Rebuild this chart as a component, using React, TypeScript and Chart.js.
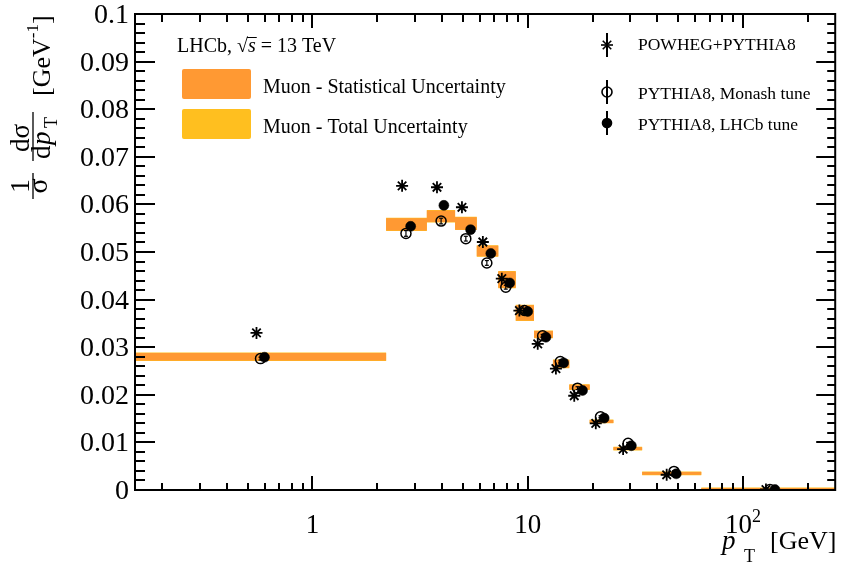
import React, { useEffect, useRef } from "react";
import { Chart, registerables } from "chart.js";
Chart.register(...registerables);

// ---------------- data ----------------
const X_MIN = 0.15;
const X_MAX = 268;
const Y_MIN = 0;
const Y_MAX = 0.1;

// muon measurement (bins in pT [GeV])
const binEdges = [0, 2.2, 3.4, 4.6, 5.8, 7.3, 8.8, 10.7, 13.1, 15.6, 19.4, 25, 34, 64, 300];
const muonValues = [0.0280, 0.0558, 0.0575, 0.0560, 0.0502, 0.0442, 0.0372, 0.0327, 0.0265, 0.0216, 0.0144, 0.0087, 0.0035, 0.0002];
const muonStatErr = [0.0008, 0.0013, 0.0012, 0.0013, 0.0011, 0.0017, 0.0016, 0.0007, 0.0008, 0.0005, 0.0003, 0.0003, 0.0003, 0.0002];
const muonTotErr = [0.0009, 0.0014, 0.0013, 0.0014, 0.0012, 0.0018, 0.0017, 0.0008, 0.0009, 0.0006, 0.0004, 0.0004, 0.0004, 0.0003];

// POWHEG+PYTHIA8
const powhegX = [0.55, 2.61, 3.79, 4.95, 6.19, 7.58, 9.15, 11.13, 13.52, 16.45, 20.71, 27.74, 44.2, 127.8];
const powhegY = [0.0330, 0.0639, 0.0636, 0.0594, 0.0521, 0.0444, 0.0377, 0.0307, 0.0255, 0.0198, 0.0140, 0.0086, 0.0032, 0.0001];

// PYTHIA8, Monash tune
const monashX = [0.574, 2.72, 3.96, 5.16, 6.46, 7.91, 9.65, 11.73, 14.17, 17.04, 21.78, 29.26, 47.8, 133.4];
const monashY = [0.0276, 0.0539, 0.0565, 0.0528, 0.0477, 0.0426, 0.0377, 0.0324, 0.0270, 0.0214, 0.0154, 0.0098, 0.0039, 0.0001];
const monashErr = [0.0003, 0.0006, 0.0006, 0.0005, 0.0005, 0.0004, 0.0004, 0.0003, 0.0003, 0.0003, 0.0002, 0.0002, 0.0001, 0.0000];

// PYTHIA8, LHCb tune
const lhcbX = [0.599, 2.86, 4.08, 5.43, 6.74, 8.25, 10.0, 12.15, 14.68, 17.97, 22.65, 30.30, 48.96, 140.6];
const lhcbY = [0.0279, 0.0554, 0.0598, 0.0547, 0.0497, 0.0435, 0.0375, 0.0321, 0.0267, 0.0209, 0.0151, 0.0093, 0.0034, 0.0001];

// axis ticks
const yTickValues = [0, 0.01, 0.02, 0.03, 0.04, 0.05, 0.06, 0.07, 0.08, 0.09, 0.1];
const yTickLabels = ["0", "0.01", "0.02", "0.03", "0.04", "0.05", "0.06", "0.07", "0.08", "0.09", "0.1"];
const xTickValues = [1, 10, 100];
const xTickLabels = ["1", "10", "10^2"];

// legend texts
const legendModels = ["POWHEG+PYTHIA8", "PYTHIA8, Monash tune", "PYTHIA8, LHCb tune"];
const legendBands = ["Muon - Statistical Uncertainty", "Muon - Total Uncertainty"];

const STAT_COLOR = "#FF9933";
const TOT_COLOR = "#FFBF1F";
const FONT = '"Liberation Serif", "Times New Roman", serif';

function bandPoints(errs: number[], sign: number) {
  const pts: { x: number; y: number }[] = [];
  for (let i = 0; i < muonValues.length; i++) {
    pts.push({ x: Math.max(binEdges[i], X_MIN), y: muonValues[i] + sign * errs[i] });
  }
  const n = muonValues.length - 1;
  pts.push({ x: binEdges[n + 1], y: muonValues[n] + sign * errs[n] });
  return pts;
}

function zip(xs: number[], ys: number[]) {
  return xs.map((x, i) => ({ x, y: ys[i] }));
}

function line(ctx: CanvasRenderingContext2D, x1: number, y1: number, x2: number, y2: number) {
  ctx.beginPath();
  ctx.moveTo(x1, y1);
  ctx.lineTo(x2, y2);
  ctx.stroke();
}

function drawStar(ctx: CanvasRenderingContext2D, x: number, y: number, r: number) {
  for (let k = 0; k < 4; k++) {
    const a = (k * Math.PI) / 4;
    line(ctx, x - r * Math.cos(a), y - r * Math.sin(a), x + r * Math.cos(a), y + r * Math.sin(a));
  }
}

const decoPlugin = {
  id: "deco",
  afterDatasetsDraw(chart: any) {
    const { ctx, scales } = chart;
    const xs = scales.x;
    const ys = scales.y;
    ctx.save();
    ctx.strokeStyle = "#000";
    ctx.lineWidth = 1.2;
    for (let i = 0; i < monashX.length; i++) {
      const e = monashErr[i];
      if (e <= 0) continue;
      const px = xs.getPixelForValue(monashX[i]);
      const p1 = ys.getPixelForValue(monashY[i] - e);
      const p2 = ys.getPixelForValue(monashY[i] + e);
      line(ctx, px, p1, px, p2);
      line(ctx, px - 2, p1, px + 2, p1);
      line(ctx, px - 2, p2, px + 2, p2);
    }
    ctx.restore();
  },
  afterDraw(chart: any) {
    const { ctx, chartArea: a, scales } = chart;
    const xs = scales.x;
    const ys = scales.y;
    ctx.save();
    ctx.strokeStyle = "#000";
    ctx.fillStyle = "#000";
    ctx.lineWidth = 2;
    ctx.lineCap = "butt";
    // frame
    ctx.strokeRect(a.left, a.top, a.right - a.left, a.bottom - a.top);
    // y ticks
    for (let i = 0; i <= 50; i++) {
      const v = i * 0.002;
      const py = Math.round(ys.getPixelForValue(v));
      const major = i % 5 === 0;
      line(ctx, a.left, py, a.left + (major ? 20 : 10), py);
      line(ctx, a.right, py, a.right - (major ? 19 : 8), py);
    }
    // x ticks (log)
    for (let d = 0.1; d <= 1000; d *= 10) {
      for (let m = 1; m <= 9; m++) {
        const v = m * d;
        if (v < X_MIN || v > X_MAX) continue;
        const px = Math.round(xs.getPixelForValue(v));
        const major = m === 1;
        line(ctx, px, a.bottom, px, a.bottom - (major ? 14 : 7));
        line(ctx, px, a.top, px, a.top + (major ? 14 : 8));
      }
    }
    // y tick labels
    ctx.font = `28px ${FONT}`;
    ctx.textAlign = "right";
    ctx.textBaseline = "alphabetic";
    yTickValues.forEach((v, i) => {
      const py = ys.getPixelForValue(v);
      ctx.fillText(yTickLabels[i], 129, py + 9);
    });
    // x tick labels
    xTickValues.forEach((v, i) => {
      const px = xs.getPixelForValue(v);
      const lab = xTickLabels[i];
      if (lab.includes("^")) {
        const [base, exp] = lab.split("^");
        ctx.font = `27px ${FONT}`;
        const wb = ctx.measureText(base).width;
        ctx.font = `18px ${FONT}`;
        const we = ctx.measureText(exp).width;
        const x0 = px - (wb + we) / 2;
        ctx.textAlign = "left";
        ctx.font = `27px ${FONT}`;
        ctx.fillText(base, x0, 533);
        ctx.font = `18px ${FONT}`;
        ctx.fillText(exp, x0 + wb, 522);
      } else {
        ctx.textAlign = "center";
        ctx.font = `27px ${FONT}`;
        ctx.fillText(lab, px, 533);
      }
    });
    // x axis title
    ctx.textAlign = "left";
    ctx.font = `italic 27px ${FONT}`;
    ctx.fillText("p", 722, 549);
    ctx.font = `18px ${FONT}`;
    ctx.fillText("T", 744, 562);
    ctx.font = `26px ${FONT}`;
    ctx.fillText("[GeV]", 770, 549);

    // y axis title (rotated)
    ctx.save();
    ctx.translate(0, 196);
    ctx.rotate(-Math.PI / 2);
    ctx.lineWidth = 1.3;
    ctx.textAlign = "center";
    ctx.font = `28px ${FONT}`;
    ctx.fillText("1", 10, 29);
    ctx.fillText("σ", 10, 47);
    line(ctx, -3, 33, 23, 33);
    ctx.font = `27px ${FONT}`;
    ctx.fillText("dσ", 58, 29);
    line(ctx, 35, 33, 84, 33);
    ctx.textAlign = "left";
    ctx.fillText("d", 37, 50);
    ctx.font = `italic 27px ${FONT}`;
    ctx.fillText("p", 51, 50);
    ctx.font = `18px ${FONT}`;
    ctx.fillText("T", 68, 57);
    ctx.font = `26px ${FONT}`;
    let u = 100;
    ctx.fillText("[GeV", u, 50);
    u += ctx.measureText("[GeV").width;
    ctx.font = `17px ${FONT}`;
    ctx.fillText("-1", u, 38);
    u += ctx.measureText("-1").width;
    ctx.font = `26px ${FONT}`;
    ctx.fillText("]", u, 50);
    ctx.restore();

    // left legend header
    ctx.textAlign = "left";
    ctx.font = `20px ${FONT}`;
    let tx = 177;
    ctx.fillText("LHCb, ", tx, 52);
    tx += ctx.measureText("LHCb, ").width;
    ctx.fillText("√", tx, 52);
    const wr = ctx.measureText("√").width;
    ctx.font = `italic 20px ${FONT}`;
    const ws = ctx.measureText("s").width;
    ctx.fillText("s", tx + wr, 52);
    ctx.lineWidth = 1;
    line(ctx, tx + wr - 1, 37.5, tx + wr + ws + 1, 37.5);
    tx += wr + ws;
    ctx.font = `20px ${FONT}`;
    ctx.fillText(" = 13 TeV", tx, 52);

    // band legend
    const boxes = [
      { y: 69, c: STAT_COLOR },
      { y: 109, c: TOT_COLOR },
    ];
    boxes.forEach((b, i) => {
      ctx.fillStyle = b.c;
      ctx.beginPath();
      (ctx as any).roundRect(182, b.y, 69, 30, 2);
      ctx.fill();
      ctx.fillStyle = "#000";
      ctx.font = `20px ${FONT}`;
      ctx.fillText(legendBands[i], 263, b.y + 24);
    });

    // model legend
    const mx = 607;
    const rows = [45, 92, 123];
    const baselines = [50, 99, 130];
    ctx.strokeStyle = "#000";
    ctx.fillStyle = "#000";
    rows.forEach((cy, i) => {
      ctx.lineWidth = 2;
      line(ctx, mx, cy - 12, mx, cy + 12);
      ctx.lineWidth = 1.6;
      if (i === 0) {
        drawStar(ctx, mx, cy, 6);
      } else if (i === 1) {
        ctx.beginPath();
        ctx.arc(mx, cy, 5, 0, Math.PI * 2);
        ctx.stroke();
      } else {
        ctx.beginPath();
        ctx.arc(mx, cy, 5.3, 0, Math.PI * 2);
        ctx.fill();
      }
      ctx.font = `17.5px ${FONT}`;
      ctx.fillText(legendModels[i], 638, baselines[i]);
    });
    ctx.restore();
  },
};

export default function App() {
  const ref = useRef<HTMLCanvasElement | null>(null);
  useEffect(() => {
    if (!ref.current) return;
    const bandCommon = {
      type: "line" as const,
      stepped: "before" as const,
      pointRadius: 0,
      borderWidth: 0,
      showLine: true,
      borderColor: "rgba(0,0,0,0)",
    };
    const chart = new Chart(ref.current, {
      type: "scatter",
      data: {
        datasets: [
          {
            label: legendModels[2],
            data: zip(lhcbX, lhcbY),
            pointStyle: "circle",
            pointRadius: 5,
            pointBackgroundColor: "#000",
            pointBorderColor: "#000",
            pointBorderWidth: 0.5,
            order: 0,
          } as any,
          {
            label: legendModels[1],
            data: zip(monashX, monashY),
            pointStyle: "circle",
            pointRadius: 5,
            pointBackgroundColor: "rgba(0,0,0,0)",
            pointBorderColor: "#000",
            pointBorderWidth: 1.5,
            order: 1,
          },
          {
            label: legendModels[0],
            data: zip(powhegX, powhegY),
            pointStyle: "star",
            pointRadius: 6,
            pointBorderColor: "#000",
            pointBorderWidth: 1.8,
            order: 2,
          },
          { ...bandCommon, label: "statLow", data: bandPoints(muonStatErr, -1), fill: false, order: 5 },
          { ...bandCommon, label: legendBands[0], data: bandPoints(muonStatErr, 1), fill: "-1", backgroundColor: STAT_COLOR, order: 5 },
          { ...bandCommon, label: "totLow", data: bandPoints(muonTotErr, -1), fill: false, order: 6 },
          { ...bandCommon, label: legendBands[1], data: bandPoints(muonTotErr, 1), fill: "-1", backgroundColor: TOT_COLOR, order: 6 },
        ] as any,
      },
      options: {
        animation: false,
        responsive: true,
        maintainAspectRatio: false,
        devicePixelRatio: 1,
        layout: { padding: { left: 135, top: 14, right: 4, bottom: 74 } },
        scales: {
          x: { type: "logarithmic", min: X_MIN, max: X_MAX, display: false },
          y: { type: "linear", min: Y_MIN, max: Y_MAX, display: false },
        },
        plugins: { legend: { display: false }, tooltip: { enabled: false } },
      },
      plugins: [decoPlugin],
    } as any);
    return () => chart.destroy();
  }, []);
  return (
    <div style={{ position: "absolute", left: 0, top: 0, width: 843, height: 564, background: "#fff" }}>
      <canvas ref={ref} />
    </div>
  );
}
